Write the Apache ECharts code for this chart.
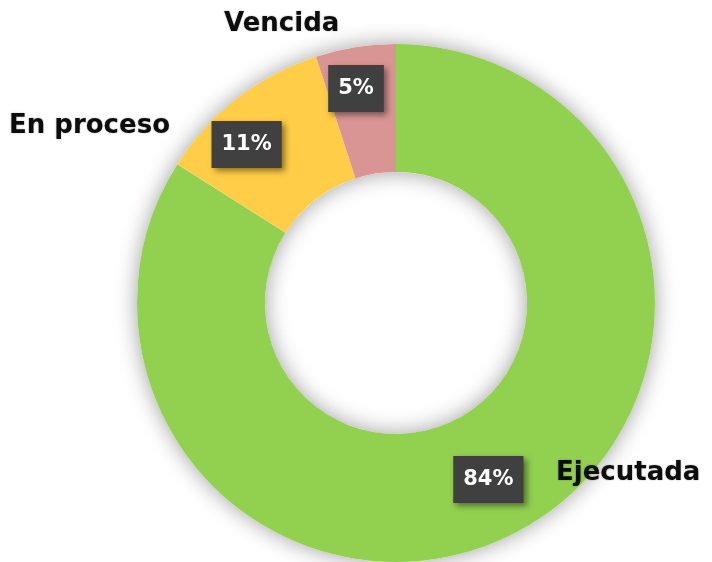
<!DOCTYPE html>
<html>
<head>
<meta charset="utf-8">
<script src="https://cdn.jsdelivr.net/npm/echarts@6/dist/echarts.min.js"></script>
<style>
  html, body { margin: 0; padding: 0; background: #ffffff; }
  #chart { width: 712px; height: 562px; }
</style>
</head>
<body>
<div id="chart"></div>
<script>
const categories = ['Ejecutada', 'En proceso', 'Vencida'];
const shares = [84, 11, 5];
const sliceColors = ['#92D050', '#FFCD47', '#D99594'];

// label placement tweaks (percent boxes are nudged, names sit outside the ring)
const boxNudge = [[-3, 3], [-28, -2], [-9, -19]];
const namePos = [[556, 473], [9, 126], [224, 24]];

const center = [396, 303];
const radius = [131, 259];

const chart = echarts.init(document.getElementById('chart'));

const pieData = categories.map((name, i) => ({
  name,
  value: shares[i],
  itemStyle: { color: sliceColors[i] },
}));

chart.setOption({
  animation: false,
  series: [
    {
      // soft shadow under the ring
      type: 'pie',
      silent: true,
      z: 1,
      center,
      radius,
      label: { show: false },
      labelLine: { show: false },
      itemStyle: {
        color: '#ffffff',
        shadowBlur: 22,
        shadowColor: 'rgba(0, 0, 0, 0.38)',
      },
      data: [{ value: 1 }],
    },
    {
      type: 'pie',
      z: 2,
      center,
      radius,
      startAngle: 90,
      clockwise: true,
      silent: true,
      label: {
        show: true,
        position: 'inside',
        formatter: '{c}%',
        fontFamily: 'DejaVu Sans',
        fontWeight: 'bold',
        fontSize: 21,
        color: '#ffffff',
        backgroundColor: '#404040',
        padding: [14, 10, 12, 10],
        shadowBlur: 6,
        shadowOffsetX: 3,
        shadowOffsetY: 3,
        shadowColor: 'rgba(0, 0, 0, 0.45)',
      },
      labelLayout: (p) => ({ dx: boxNudge[p.dataIndex][0], dy: boxNudge[p.dataIndex][1] }),
      labelLine: { show: false },
      data: pieData,
    },
    {
      // category names outside the ring
      type: 'pie',
      z: 3,
      center,
      radius,
      startAngle: 90,
      clockwise: true,
      silent: true,
      itemStyle: { color: 'rgba(0,0,0,0)' },
      label: {
        show: true,
        position: 'outside',
        alignTo: 'none',
        overflow: 'none',
        formatter: '{b}',
        fontFamily: 'DejaVu Sans',
        fontWeight: 'bold',
        fontSize: 26,
        color: '#0d0d0d',
        textShadowColor: 'rgba(0,0,0,0.3)',
        textShadowBlur: 2,
      },
      labelLine: { show: false },
      labelLayout: (p) => ({
        x: namePos[p.dataIndex][0],
        y: namePos[p.dataIndex][1],
        align: 'left',
        verticalAlign: 'middle',
      }),
      data: categories.map((name, i) => ({ name, value: shares[i] })),
    },
  ],
});
</script>
</body>
</html>
